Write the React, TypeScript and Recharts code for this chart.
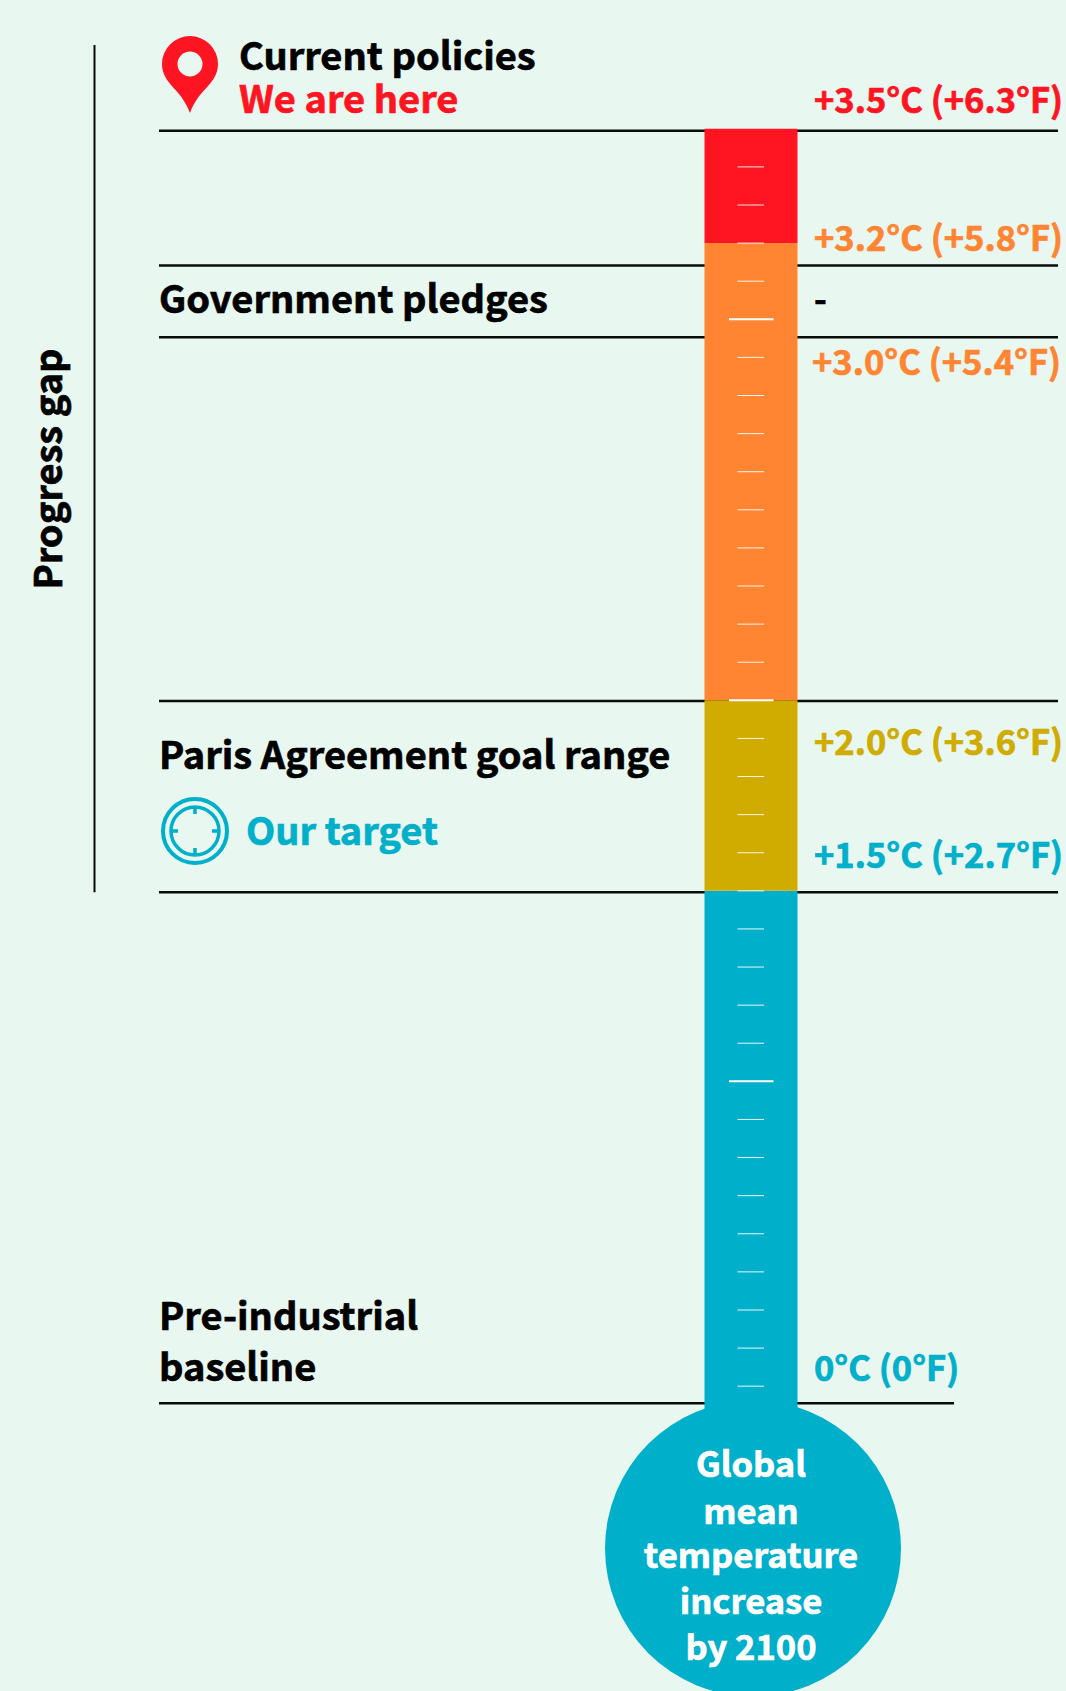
import { Bar, ComposedChart, ReferenceDot, ReferenceLine, XAxis, YAxis } from 'recharts';

const WIDTH = 1066;
const HEIGHT = 1691;
const FONT = '"Noto Sans CJK SC", "Noto Sans", sans-serif';

const BG = '#E8F7F0';
const RED = '#FF1522';
const ORANGE = '#FF8533';
const GOLD = '#D0AB00';
const BLUE = '#00AFCA';

// stack, bottom to top (degrees C)
const segmentNames = ['preindustrialTo15', 'goalRange', 'pledges', 'policies'];
const segmentValues = [1.5, 0.5, 1.2, 0.3];
const segmentColors = [BLUE, GOLD, ORANGE, RED];

const minorTicks = [3.4, 3.3, 3.2, 3.1, 2.9, 2.8, 2.7, 2.6, 2.5, 2.4, 2.3, 2.2, 2.1, 1.9, 1.8, 1.7, 1.6, 1.5, 1.4, 1.3, 1.2, 1.1, 0.9, 0.8, 0.7, 0.6, 0.5, 0.4, 0.3, 0.2];
const majorTicks = [3.0, 2.0, 1.0];
const fullRules = [3.495, 3.141, 2.953, 1.998, 1.496];
const baselineRule = 0.155;
const gapRange = [1.496, 3.72];

const row: Record<string, number> = { x: 750.5 };
segmentNames.forEach((name, i) => {
  row[name] = segmentValues[i];
});

const bulbLines = ['Global', 'mean', 'temperature', 'increase', 'by 2100'];
const bulbBaselines = [1477, 1524, 1568, 1614, 1660];

function Label({ x, y, fill = '#000', size = 38, anchor = 'start', children }: any) {
  return (
    <text x={x} y={y} fill={fill} stroke={fill} strokeWidth={0.7} fontSize={size} fontWeight={700} fontFamily={FONT} textAnchor={anchor}>
      {children}
    </text>
  );
}

export default function App() {
  return (
    <div style={{ position: 'absolute', left: 0, top: 0, width: WIDTH, height: HEIGHT, background: BG, overflow: 'hidden' }}>
      <ComposedChart width={WIDTH} height={HEIGHT} data={[row]} margin={{ top: 0, right: 0, bottom: 0, left: 0 }}>
        <XAxis dataKey="x" type="number" domain={[0, WIDTH]} hide />
        <YAxis type="number" domain={[-0.6, 3.838]} hide />

        {fullRules.map((v) => (
          <ReferenceLine key={v} zIndex={100} segment={[{ x: 159, y: v }, { x: 1058, y: v }]} stroke="#0B0B0B" strokeWidth={2.5} />
        ))}
        <ReferenceLine zIndex={100} segment={[{ x: 159, y: baselineRule }, { x: 954, y: baselineRule }]} stroke="#0B0B0B" strokeWidth={2.5} />
        <ReferenceLine zIndex={100} segment={[{ x: 94.5, y: gapRange[0] }, { x: 94.5, y: gapRange[1] }]} stroke="#0B0B0B" strokeWidth={2} />

        <ReferenceDot zIndex={200} x={753} y={-0.226} r={148} fill={BLUE} stroke="none" />

        {segmentNames.map((name, i) => (
          <Bar key={name} dataKey={name} stackId="temp" fill={segmentColors[i]} barSize={93} isAnimationActive={false} />
        ))}

        {minorTicks.map((v) => (
          <ReferenceLine key={v} segment={[{ x: 737.5, y: v }, { x: 764, y: v }]} stroke="#FFFFFF" strokeWidth={1} strokeOpacity={0.9} />
        ))}
        {majorTicks.map((v) => (
          <ReferenceLine key={v} segment={[{ x: 729, y: v }, { x: 773.5, y: v }]} stroke="#FFFFFF" strokeWidth={2} />
        ))}
      </ComposedChart>

      {/* text and icons go on top of the chart layers */}
      <svg width={WIDTH} height={HEIGHT} style={{ position: 'absolute', left: 0, top: 0, pointerEvents: 'none' }}>
        <path
          d="M190 113 C181 88 162 84 162 64 A28 28 0 1 1 218 64 C218 84 199 88 190 113 Z M190 51.5 A12.5 12.5 0 1 0 190 76.5 A12.5 12.5 0 1 0 190 51.5 Z"
          fill={RED}
          fillRule="evenodd"
        />
        <g fill="none" stroke={BLUE}>
          <circle cx={195} cy={831} r={32} strokeWidth={4} />
          <circle cx={195} cy={831} r={24} strokeWidth={3.5} />
          <path d="M195 807 V814 M195 848 V855 M171 831 H178 M212 831 H219" strokeWidth={3.5} />
        </g>

        <Label x={239} y={70}>Current policies</Label>
        <Label x={239} y={113} fill={RED}>We are here</Label>
        <Label x={159} y={313}>Government pledges</Label>
        <Label x={159} y={769}>Paris Agreement goal range</Label>
        <Label x={246} y={845} fill={BLUE}>Our target</Label>
        <Label x={159} y={1330}>Pre-industrial</Label>
        <Label x={159} y={1381}>baseline</Label>

        <Label x={814} y={113} size={34.5} fill={RED}>+3.5°C (+6.3°F)</Label>
        <Label x={814} y={251} size={34.5} fill={ORANGE}>+3.2°C (+5.8°F)</Label>
        <Label x={814} y={312} size={34.5}>-</Label>
        <Label x={812} y={375} size={34.5} fill={ORANGE}>+3.0°C (+5.4°F)</Label>
        <Label x={814} y={755} size={34.5} fill={GOLD}>+2.0°C (+3.6°F)</Label>
        <Label x={814} y={868} size={34.5} fill={BLUE}>+1.5°C (+2.7°F)</Label>
        <Label x={814} y={1381} size={34.5} fill={BLUE}>0°C (0°F)</Label>

        {bulbLines.map((line, i) => (
          <Label key={line} x={751} y={bulbBaselines[i]} size={34.5} fill="#FFFFFF" anchor="middle">
            {line}
          </Label>
        ))}

        <g transform="translate(62 469) rotate(-90)">
          <Label x={0} y={0} anchor="middle">Progress gap</Label>
        </g>
      </svg>
    </div>
  );
}
